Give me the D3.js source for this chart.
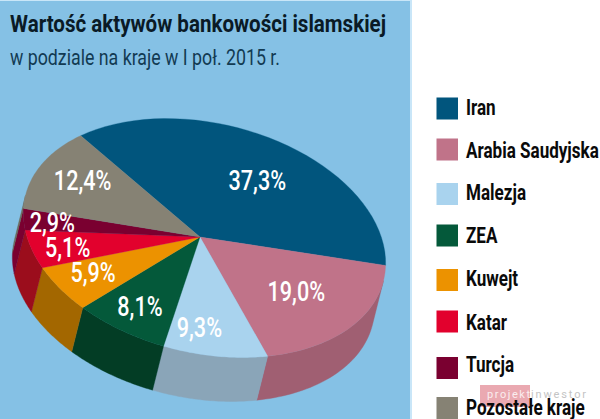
<!DOCTYPE html>
<html>
<head>
<meta charset="utf-8">
<script src="https://cdn.jsdelivr.net/npm/d3@7"></script>
<style>
body { margin: 0; background: #fff; }
svg { display: block; }
text { font-family: "Roboto", sans-serif; }
</style>
</head>
<body>
<svg id="chart"></svg>
<script>
const categories = ["Iran", "Arabia Saudyjska", "Malezja", "ZEA", "Kuwejt", "Katar", "Turcja", "Pozostałe kraje"];
const shares = [37.3, 19.0, 9.3, 8.1, 5.9, 5.1, 2.9, 12.4];
const topColors = ["#01557d", "#c07389", "#a9d3ee", "#04593a", "#ec9200", "#e2012d", "#7a0030", "#868274"];
const sideColors = ["#01405e", "#a05f72", "#8aa5b8", "#033d25", "#a36700", "#9b0d1c", "#7a0030", "#6b6a5d"];

// layout only
const labelRadius = [0.63, 0.62, 0.77, 0.73, 0.75, 0.78, 0.82, 0.72];
const labelNudge = [[8, 3], [2, -1], [-13, -1], [-2, 1], [-2, -3], [-1, 1], [-3, 0], [-2, -6]];
const legendCenter = [108.5, 149.5, 194, 235.5, 280, 321.5, 368, 408];
const legendTextCenter = [107, 150, 192, 235.5, 278, 322, 364, 407];

const width = 600;
const height = 419;
const apex = [200, 237];          // the slices meet here, a bit off the rim's centre
const cx = 204.5, cy = 238;
const rx = 184, ry = 115;
const tilt = 13 * Math.PI / 180;
const depth = { x: -11, y: 44 };
const startDeg = -51.3;

const svg = d3.select("#chart").attr("width", width).attr("height", height);

svg.append("rect").attr("x", 0).attr("y", 0).attr("width", 412).attr("height", height).attr("fill", "#c9e6f8");
svg.append("rect").attr("x", 0).attr("y", 1).attr("width", 410).attr("height", height).attr("fill", "#85c1e5");

// squeeze Roboto down to the condensed look of the original
const condense = (sel, f) => sel.each(function () {
    d3.select(this)
        .attr("textLength", this.getComputedTextLength() * f)
        .attr("lengthAdjust", "spacingAndGlyphs");
});

// angle as in d3 (0 at 12 o'clock, clockwise) -> point on the rim
const rim = a => {
    const u = rx * Math.sin(a), v = -ry * Math.cos(a);
    return [cx + u * Math.cos(tilt) - v * Math.sin(tilt), cy + u * Math.sin(tilt) + v * Math.cos(tilt)];
};

const pie = d3.pie().sort(null).value(d => d)
    .startAngle(startDeg * Math.PI / 180)
    .endAngle((360 + startDeg) * Math.PI / 180);
const arcs = pie(shares);

// the side wall shows only where the rim faces the extrusion direction
const du = (depth.x * Math.cos(tilt) + depth.y * Math.sin(tilt)) / rx;
const dv = (-depth.x * Math.sin(tilt) + depth.y * Math.cos(tilt)) / ry;
const faceMid = Math.atan2(du, -dv);
const wrap = a => a - 2 * Math.PI * Math.floor((a - faceMid + Math.PI) / (2 * Math.PI));
const sample = (a0, a1) => d3.range(0, 41).map(k => rim(a0 + (a1 - a0) * k / 40));

const sides = svg.append("g");
arcs.forEach((d, i) => {
    const a0 = wrap(d.startAngle);
    const a1 = a0 + (d.endAngle - d.startAngle);
    const lo = Math.max(a0, faceMid - Math.PI / 2);
    const hi = Math.min(a1, faceMid + Math.PI / 2);
    if (hi <= lo) return;
    const upper = sample(lo, hi);
    const lower = upper.slice().reverse().map(p => [p[0] + depth.x, p[1] + depth.y]);
    sides.append("path")
        .attr("d", d3.line()(upper.concat(lower)) + "Z")
        .attr("fill", sideColors[i])
        .attr("stroke", sideColors[i])
        .attr("stroke-width", 0.4);
});

svg.append("g").selectAll("path")
    .data(arcs)
    .enter().append("path")
    .attr("d", d => d3.line()([apex].concat(sample(d.startAngle, d.endAngle))) + "Z")
    .attr("fill", (d, i) => topColors[i])
    .attr("stroke", (d, i) => topColors[i])
    .attr("stroke-width", 0.3);

svg.append("g").selectAll("text")
    .data(arcs)
    .enter().append("text")
    .attr("transform", (d, i) => {
        const p = rim((d.startAngle + d.endAngle) / 2);
        const r = labelRadius[i];
        const x = apex[0] + (p[0] - apex[0]) * r + labelNudge[i][0];
        const y = apex[1] + (p[1] - apex[1]) * r + labelNudge[i][1];
        return `translate(${x},${y})`;
    })
    .attr("dy", "0.36em")
    .attr("text-anchor", "middle")
    .attr("font-size", 27)
    .attr("font-weight", 500)
    .attr("fill", "#fff")
    .text(d => d3.format(".1f")(d.data).replace(".", ",") + "%")
    .call(condense, 0.8);

svg.append("text")
    .attr("x", 10).attr("y", 32)
    .attr("font-size", 24)
    .attr("font-weight", "bold")
    .attr("fill", "#0a1a26")
    .text("Wartość aktywów bankowości islamskiej")
    .attr("textLength", 376)
    .attr("lengthAdjust", "spacingAndGlyphs");

svg.append("text")
    .attr("x", 10).attr("y", 65)
    .attr("font-size", 22)
    .attr("fill", "#123a52")
    .text("w podziale na kraje w I poł. 2015 r.")
    .attr("textLength", 270)
    .attr("lengthAdjust", "spacingAndGlyphs");

// watermark sits under the last legend row
svg.append("rect").attr("x", 480).attr("y", 385).attr("width", 50).attr("height", 22).attr("fill", "#eaa9b1");
svg.append("text").attr("x", 487).attr("y", 398).attr("font-size", 11).attr("font-family", "DejaVu Sans")
    .attr("fill", "#fff").attr("opacity", 0.8).attr("textLength", 43).text("projekt");
svg.append("text").attr("x", 531).attr("y", 398).attr("font-size", 11).attr("font-family", "DejaVu Sans")
    .attr("fill", "#c4c4c4").attr("textLength", 55).text("inwestor");

const legend = svg.append("g").selectAll("g")
    .data(categories)
    .enter().append("g");
legend.append("rect")
    .attr("x", 436.5)
    .attr("y", (d, i) => legendCenter[i] - 11)
    .attr("width", 21.5)
    .attr("height", 22)
    .attr("fill", (d, i) => topColors[i]);
legend.append("text")
    .attr("x", 466)
    .attr("y", (d, i) => legendTextCenter[i])
    .attr("dy", "0.36em")
    .attr("font-size", 22)
    .attr("font-weight", "bold")
    .attr("fill", "#0a0a0a")
    .text(d => d)
    .call(condense, 0.775);
</script>
</body>
</html>
